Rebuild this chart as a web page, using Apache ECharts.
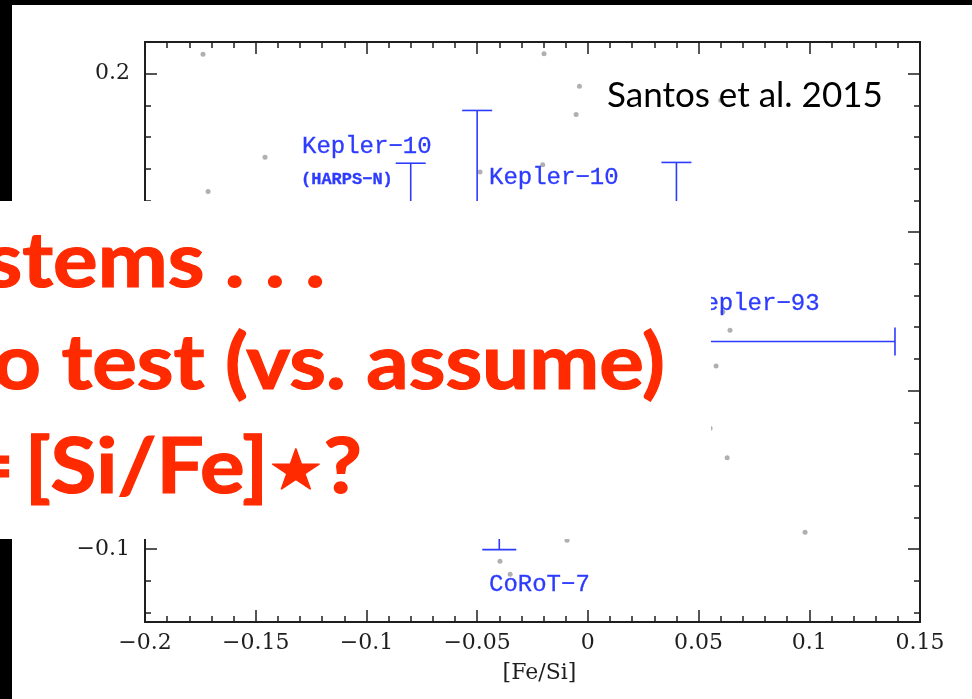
<!DOCTYPE html>
<html>
<head>
<meta charset="utf-8">
<script src="https://cdn.jsdelivr.net/npm/echarts@6/dist/echarts.min.js"></script>
<style>
  html, body { margin: 0; padding: 0; background: #000; }
  #chart { width: 972px; height: 699px; }
</style>
</head>
<body>
<div id="chart"></div>
<script>
// Field stars: [Fe/Si] (x) against the second [Fe/Si] estimate (y)
const starX = [-0.1738, -0.1458, -0.1715, -0.0198, -0.0038, -0.0053, -0.0204, 0.0600, -0.0487,
               0.0642, 0.0579, 0.0629, 0.0610, 0.0552, 0.0981, -0.0094, -0.0397, -0.0351];
const starY = [0.2122, 0.1472, 0.1257, 0.2126, 0.1920, 0.1743, 0.1426, 0.1832, 0.1379,
               0.0381, 0.0155, -0.0423, 0.0496, -0.0237, -0.0893, -0.0944, -0.1077, -0.1159];

// Planets: centre values and error-bar extents
const planetX    = [-0.080, -0.050, 0.040, 0.030, -0.040];
const planetY    = [0.070, 0.060, 0.060, 0.031, 0.000];
const planetXLow = [-0.080, -0.050, 0.040, -0.080, -0.040];
const planetXHigh= [-0.080, -0.050, 0.040, 0.1387, -0.040];
const planetYLow = [0.000, -0.060, -0.030, 0.000, -0.1003];
const planetYHigh= [0.1435, 0.1768, 0.1440, 0.060, 0.100];

// Axis ticks
const xMin = -0.2, xMax = 0.15, xStep = 0.05;
const yMin = -0.146, yMax = 0.22;
const yMajor = [-0.1, 0, 0.1, 0.2];
const yMinor = [-0.14, -0.12, -0.08, -0.06, -0.04, -0.02, 0.02, 0.04, 0.06, 0.08, 0.12, 0.14, 0.16, 0.18];

const BLUE = '#2d3bff';
const RED = '#ff2a00';
const INK = '#1e1e1e';
const TICK_FONT = '"DejaVu Serif", serif';
const MONO = '"Liberation Mono", monospace';
const SANS = 'Lato, "DejaVu Sans", sans-serif';

function fmt(v) {
  if (Math.abs(v) < 1e-9) return '0';
  const s = String(+Math.abs(v).toFixed(3));
  return (v < 0 ? '\u2212' : '') + s;
}

const frameLine = { show: true, onZero: false, lineStyle: { color: INK, width: 1.8 } };

function yAxisDef(position, values, len, labels) {
  return {
    type: 'value', position: position, min: yMin, max: yMax,
    axisLine: frameLine,
    splitLine: { show: false },
    axisTick: { show: true, inside: true, length: len, customValues: values,
                lineStyle: { color: INK, width: 1.5 } },
    axisLabel: labels
      ? { show: true, customValues: values, formatter: fmt, margin: 15,
          color: INK, fontFamily: TICK_FONT, fontSize: 22 }
      : { show: false }
  };
}

function xAxisDef(position, labels) {
  return {
    type: 'value', position: position, min: xMin, max: xMax, interval: xStep,
    axisLine: frameLine,
    splitLine: { show: false },
    axisTick: { show: true, inside: true, length: 12, lineStyle: { color: INK, width: 1.5 } },
    minorTick: { show: true, splitNumber: 5, length: 6, lineStyle: { color: INK, width: 1.5 } },
    minorSplitLine: { show: false },
    axisLabel: labels
      ? { show: true, formatter: fmt, margin: 10, color: INK, fontFamily: TICK_FONT,
          fontSize: 22, showMinLabel: true, showMaxLabel: true }
      : { show: false },
    name: labels ? '[Fe/Si]' : '',
    nameLocation: 'middle', nameGap: 40,
    nameTextStyle: { color: INK, fontFamily: TICK_FONT, fontSize: 22, padding: [0, 0, 0, 14] }
  };
}

const starData = starX.map((x, i) => [x, starY[i]]);
const planetData = planetX.map((x, i) => [x, planetY[i], planetXLow[i], planetXHigh[i], planetYLow[i], planetYHigh[i]]);

function renderErrorBar(params, api) {
  const x = api.value(0), y = api.value(1);
  const xl = api.value(2), xh = api.value(3), yl = api.value(4), yh = api.value(5);
  const cap = 15;
  const style = { stroke: BLUE, lineWidth: 1.6, fill: null };
  const kids = [];
  const seg = (x1, y1, x2, y2) => kids.push({ type: 'line', shape: { x1, y1, x2, y2 }, style });
  if (yl !== yh) {
    const a = api.coord([x, yl]), b = api.coord([x, yh]);
    seg(a[0], a[1], b[0], b[1]);
    seg(a[0] - cap - 2, a[1], a[0] + cap + 2, a[1]);
    seg(b[0] - cap, b[1], b[0] + cap, b[1]);
  }
  if (xl !== xh) {
    const a = api.coord([xl, y]), b = api.coord([xh, y]);
    seg(a[0], a[1], b[0], b[1]);
    seg(a[0], a[1] - cap, a[0], a[1] + cap);
    seg(b[0], b[1] - cap + 1, b[0], b[1] + cap - 1);
  }
  return { type: 'group', children: kids };
}

function label(text, x, y, font, size, color, weight, z) {
  return { type: 'text', x: x, y: y, z: z,
    style: { text: text, fill: color, font: (weight || 'normal') + ' ' + size + 'px ' + font,
             textAlign: 'left', textVerticalAlign: 'middle',
             stroke: color, lineWidth: 0.3 } };
}

function headline(text, x, y) {
  return { type: 'text', x: x, y: y, z: 51, scaleX: 1.1,
    style: { text: text, fill: RED, font: 'bold 76px ' + SANS, textAlign: 'right', textVerticalAlign: 'middle',
             stroke: RED, lineWidth: 1.2,
             rich: { star: { fontSize: 56, fontFamily: '"DejaVu Sans"', fill: RED, verticalAlign: 'bottom', padding: [0, 0, 4, 0] } } } };
}

const chart = echarts.init(document.getElementById('chart'), null, { renderer: 'canvas' });
chart.setOption({
  backgroundColor: '#000',
  animation: false,
  grid: { left: 145, right: 52, top: 42, bottom: 77, containLabel: false },
  xAxis: [xAxisDef('bottom', true), xAxisDef('top', false)],
  yAxis: [
    yAxisDef('left', yMajor, 12, true),
    yAxisDef('left', yMinor, 6, false),
    yAxisDef('right', yMajor, 12, false),
    yAxisDef('right', yMinor, 6, false)
  ],
  series: [
    { type: 'scatter', xAxisIndex: 0, yAxisIndex: 0, data: starData, symbolSize: 5,
      itemStyle: { color: '#9c9c9c' }, silent: true, z: 3 },
    { type: 'custom', xAxisIndex: 0, yAxisIndex: 0, data: planetData,
      renderItem: renderErrorBar, silent: true, z: 4 }
  ],
  graphic: [
    // page
    { type: 'rect', z: -10, shape: { x: 12, y: 5, width: 960, height: 694 }, style: { fill: '#fff' } },
    // planet names
    label('Kepler\u221210', 302, 147, MONO, 24, BLUE, 'normal', 5),
    label('(HARPS\u2212N)', 301, 180, MONO, 17, BLUE, 'bold', 5),
    label('Kepler\u221210', 489, 178, MONO, 24, BLUE, 'normal', 5),
    label('Kepler\u221293', 690, 304, MONO, 24, BLUE, 'normal', 5),
    label('CoRoT\u22127', 489, 585, MONO, 24, BLUE, 'normal', 5),
    { type: 'text', x: 607, y: 96, z: 5,
      style: { text: 'Santos et al. 2015', fill: '#000', font: 'normal 35px ' + SANS,
               textAlign: 'left', textVerticalAlign: 'middle' } },
    // text panel
    { type: 'rect', z: 50, shape: { x: 0, y: 201, width: 711, height: 338 }, style: { fill: '#fff' } },
    headline('systems . . .', 325, 262),
    headline('to test (vs. assume)', 665, 364),
    headline('=\u2009[Si/Fe]{star|\u2605}?', 362, 468)
  ]
});
</script>
</body>
</html>
